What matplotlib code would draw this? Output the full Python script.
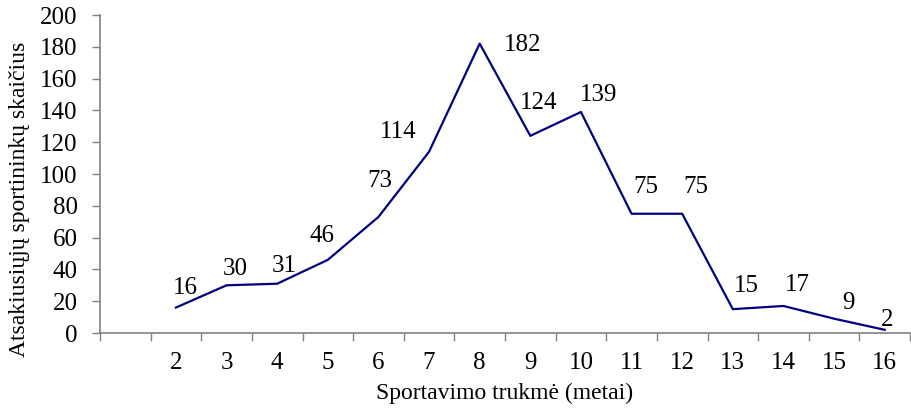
import numpy as np
import matplotlib.pyplot as plt
from matplotlib.ticker import FixedLocator, NullFormatter

plt.rcParams['font.family'] = ['Liberation Serif', 'DejaVu Serif']

# Data
categories = ['', '2', '3', '4', '5', '6', '7', '8', '9', '10', '11', '12', '13', '14', '15', '16']
years = ['2', '3', '4', '5', '6', '7', '8', '9', '10', '11', '12', '13', '14', '15', '16']
counts = [16, 30, 31, 46, 73, 114, 182, 124, 139, 75, 75, 15, 17, 9, 2]

# label offsets in points (dx, dy) relative to each data point
label_offsets = [(7, 14), (6, 12), (5, 13), (-4, 17), (1, 26), (-22, 14), (31, -1), (6, 24),
                 (13, 12), (10, 19), (10, 19), (10, 17), (10, 15), (10, 11), (2, 7)]

AXIS_GREY = '#808080'
LINE_COLOR = '#000080'
FS = 18

fig = plt.figure(figsize=(9.11, 4.11), dpi=100)
ax = fig.add_axes([100 / 911, 1 - 333 / 411, 810 / 911, 318 / 411])

x = np.arange(1, len(categories))
ax.plot(x, counts, color=LINE_COLOR, linewidth=1.6)

for xi, val, (dx, dy) in zip(x, counts, label_offsets):
    ax.annotate(str(val), (xi, val), xytext=(dx, dy), textcoords='offset points',
                ha='center', va='center', fontsize=FS)

ax.set_xlim(-0.5, len(categories) - 0.5)
ax.set_ylim(0, 200)

# category axis: tick marks between categories, labels at centers
ax.xaxis.set_major_locator(FixedLocator(np.arange(-0.5, len(categories), 1.0)))
ax.xaxis.set_major_formatter(NullFormatter())
ax.xaxis.set_minor_locator(FixedLocator(np.arange(len(categories))))
ax.set_xticklabels(categories, minor=True)
ax.tick_params(axis='x', which='major', length=6, width=1, color=AXIS_GREY, direction='out')
ax.tick_params(axis='x', which='minor', length=0, labelsize=FS, pad=14)

ax.set_yticks(np.arange(0, 201, 20))
ax.tick_params(axis='y', length=6, width=1, color=AXIS_GREY, direction='out', labelsize=FS, pad=10)

for side in ['top', 'right']:
    ax.spines[side].set_visible(False)
for side in ['left', 'bottom']:
    ax.spines[side].set_color(AXIS_GREY)
    ax.spines[side].set_linewidth(1.2)

ax.set_xlabel('Sportavimo trukmė (metai)', fontsize=17, labelpad=6)
ax.set_ylabel('Atsakiusiųjų sportininkų skaičius', fontsize=17)
ax.yaxis.set_label_coords(-0.086, 0.42)

fig.savefig('out.png', dpi=100)
